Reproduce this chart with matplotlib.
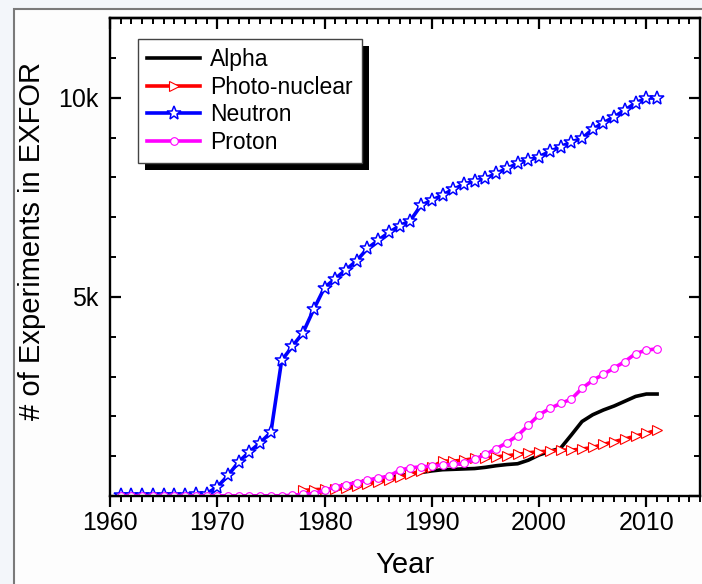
import matplotlib
matplotlib.use("Agg")
import matplotlib.pyplot as plt
from matplotlib.patches import Rectangle
from matplotlib.ticker import MultipleLocator, FuncFormatter

plt.rcParams["font.family"] = ["Liberation Sans", "DejaVu Sans"]

# ---------- data ----------
years = list(range(1961, 2012))

neutron = [25, 25, 25, 25, 25, 25, 25, 40, 60, 227,
           515, 860, 1111, 1338, 1600, 3402, 3757, 4103, 4692, 5234,
           5458, 5682, 5907, 6215, 6421, 6617, 6785, 6916, 7300, 7424,
           7560, 7698, 7830, 7900, 7975, 8100, 8224, 8352, 8425, 8520,
           8650, 8768, 8890, 8978, 9210, 9370, 9520, 9690, 9870, 9990,
           9990]

alpha = [0, 0, 0, 0, 0, 0, 0, 0, 0, 0,
         0, 0, 0, 0, 0, 0, 0, 30, 70, 130,
         180, 230, 300, 370, 420, 460, 510, 550, 590, 630,
         660, 670, 680, 690, 720, 760, 790, 810, 900, 1030,
         1120, 1200, 1530, 1870, 2040, 2160, 2260, 2380, 2500, 2560,
         2560]

photo_years = list(range(1978, 2012))
photo = [140, 160, 170, 180, 190, 240, 310, 360, 400, 480,
         540, 640, 730, 876, 876, 901, 942, 960, 985, 1010,
         1044, 1086, 1111, 1128, 1153, 1153, 1178, 1220, 1296, 1364,
         1431, 1506, 1574, 1658]

proton = [0, 0, 0, 0, 0, 0, 0, 0, 0, 5,
          5, 5, 5, 5, 5, 5, 17, 43, 58, 143,
          227, 286, 337, 396, 454, 496, 648, 707, 732, 749,
          780, 791, 816, 926, 1044, 1187, 1338, 1515, 1776, 2037,
          2197, 2323, 2432, 2702, 2904, 3055, 3215, 3375, 3577, 3661,
          3695]

# ---------- figure ----------
W, H = 702, 584
fig = plt.figure(figsize=(W / 100, H / 100), dpi=100)
fig.patch.set_facecolor("#f3f6fa")
# slide frame behind the plot
fig.add_artist(Rectangle((14 / W, -0.05), 1.1, (H - 9) / H + 0.05,
                         transform=fig.transFigure, facecolor="#fdfdfd",
                         edgecolor="#7a7a7a", lw=1.5, zorder=-10))

ax = fig.add_axes([110 / W, (H - 496) / H, 590 / W, 478 / H])
ax.set_facecolor("white")

lw = 2.6
ax.plot(years, alpha, color="black", lw=lw, label="Alpha")
ax.plot(photo_years, photo, color="red", lw=lw, marker=">", ms=7.5,
        mfc="white", mec="red", mew=0.8, label="Photo-nuclear")
ax.plot(years, neutron, color="blue", lw=lw, marker="*", ms=10,
        mfc="white", mec="blue", mew=1.1, label="Neutron")
ax.plot(years, proton, color="magenta", lw=lw, marker="o", ms=5.5,
        mfc="white", mec="magenta", mew=0.8, label="Proton")

ax.set_xlim(1960, 2015)
ax.set_ylim(0, 12000)

ax.xaxis.set_major_locator(MultipleLocator(10))
ax.xaxis.set_minor_locator(MultipleLocator(1))
ax.yaxis.set_major_locator(MultipleLocator(5000))
ax.yaxis.set_minor_locator(MultipleLocator(1000))
ax.yaxis.set_major_formatter(FuncFormatter(lambda v, p: "" if v == 0 else f"{int(v / 1000)}k"))

for s in ax.spines.values():
    s.set_linewidth(1.7)

ax.tick_params(axis="x", which="both", direction="out", top=False, labelsize=18, pad=3)
ax.tick_params(axis="y", which="both", direction="in", left=True, right=True, labelsize=18, pad=8)
ax.tick_params(which="major", length=8, width=1.6)
ax.tick_params(which="minor", length=4.5, width=1.4)

top = ax.secondary_xaxis("top")
top.xaxis.set_major_locator(MultipleLocator(10))
top.xaxis.set_minor_locator(MultipleLocator(1))
top.tick_params(which="both", direction="in", labeltop=False)
top.tick_params(which="major", length=8, width=1.6)
top.tick_params(which="minor", length=4.5, width=1.4)
top.spines["top"].set_linewidth(1.7)

ax.set_xlabel("Year", fontsize=21, labelpad=11)
ax.set_ylabel("# of Experiments in EXFOR", fontsize=21)
ax.yaxis.set_label_coords(-0.108, 0.534)

leg = ax.legend(loc="upper left", bbox_to_anchor=(28 / 590, (496 - 39) / 478),
                borderaxespad=0, fontsize=16.5, frameon=True, fancybox=False,
                handlelength=2.3, handletextpad=0.45, labelspacing=0.2,
                borderpad=0.4, edgecolor="#444444", framealpha=1)
leg.get_frame().set_linewidth(1.0)
leg.set_zorder(6)

# hard black drop shadow under the legend box
fig.canvas.draw()
bb = leg.get_window_extent()
inv = ax.transAxes.inverted()
(x0, y0), (x1, y1) = inv.transform([(bb.x0 + 7, bb.y0 - 7), (bb.x1 + 7, bb.y1 - 7)])
ax.add_patch(Rectangle((x0, y0), x1 - x0, y1 - y0, transform=ax.transAxes,
                       facecolor="black", edgecolor="none", zorder=5.5, clip_on=False))

fig.savefig("out.png", dpi=100, facecolor=fig.get_facecolor())
